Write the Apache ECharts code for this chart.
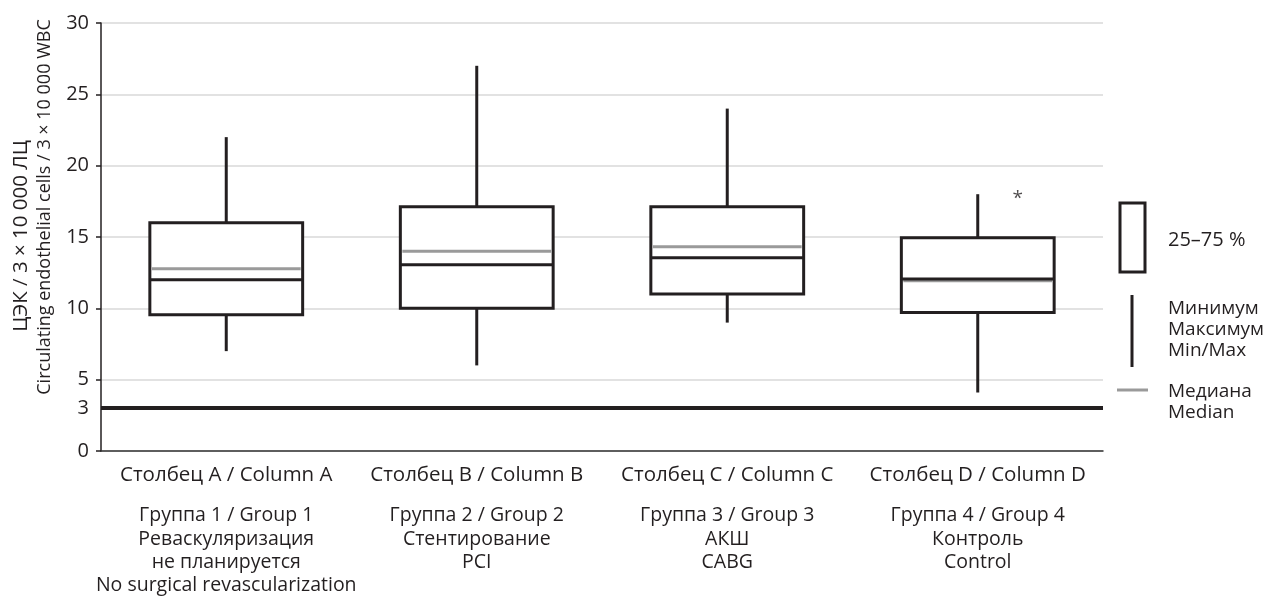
<!DOCTYPE html>
<html>
<head>
<meta charset="utf-8">
<script src="https://cdn.jsdelivr.net/npm/echarts@6/dist/echarts.min.js"></script>
<style>html,body{margin:0;padding:0;background:#fff;}#c{width:1272px;height:604px;}</style>
</head>
<body>
<div id="c"></div>
<script>
const categories = ['Столбец A / Column A', 'Столбец B / Column B', 'Столбец C / Column C', 'Столбец D / Column D'];
const groupLabels = [
  'Группа 1 / Group 1\nРеваскуляризация\nне планируется\nNo surgical revascularization',
  'Группа 2 / Group 2\nСтентирование\nPCI',
  'Группа 3 / Group 3\nАКШ\nCABG',
  'Группа 4 / Group 4\nКонтроль\nControl'
];
const minValues    = [7.0, 6.0, 9.0, 4.1];
const q1Values     = [9.55, 10.0, 11.0, 9.7];
const centerValues = [12.0, 13.05, 13.55, 12.05];
const q3Values     = [16.0, 17.12, 17.12, 14.95];
const maxValues    = [22.0, 27.0, 24.0, 18.0];
const medianValues = [12.78, 14.0, 14.32, 11.93];
const referenceLevel = 3;
const significance = [[3, 17.8]];
const yTickValues = [0, 5, 10, 15, 20, 25, 30];

const FONT = 'Open Sans';
const INK = '#231f20';
const GREY = '#9a9a9a';

const boxData = categories.map((c, i) => [i, minValues[i], q1Values[i], centerValues[i], q3Values[i], maxValues[i], medianValues[i]]);

function renderItem(params, api) {
  const x = api.value(0);
  const pMin = api.coord([x, api.value(1)]);
  const pQ1 = api.coord([x, api.value(2)]);
  const pC = api.coord([x, api.value(3)]);
  const pQ3 = api.coord([x, api.value(4)]);
  const pMax = api.coord([x, api.value(5)]);
  const pMed = api.coord([x, api.value(6)]);
  const w = api.size([1, 0])[0] * 0.61;
  const cx = pC[0];
  const l = cx - w / 2, r = cx + w / 2;
  return {
    type: 'group',
    children: [
      {type: 'line', shape: {x1: cx, y1: pMax[1], x2: cx, y2: pQ3[1]}, style: {stroke: INK, lineWidth: 3}},
      {type: 'line', shape: {x1: cx, y1: pQ1[1], x2: cx, y2: pMin[1]}, style: {stroke: INK, lineWidth: 3}},
      {type: 'rect', shape: {x: l, y: pQ3[1], width: w, height: pQ1[1] - pQ3[1]}, style: {fill: '#fff', stroke: INK, lineWidth: 3}},
      {type: 'line', shape: {x1: l + 2, y1: pMed[1], x2: r - 2, y2: pMed[1]}, style: {stroke: GREY, lineWidth: 3}},
      {type: 'line', shape: {x1: l, y1: pC[1], x2: r, y2: pC[1]}, style: {stroke: INK, lineWidth: 3}}
    ]
  };
}

const chart = echarts.init(document.getElementById('c'));
const txt = {fontFamily: FONT, fontSize: 19, fill: INK};
chart.setOption({
  animation: false,
  textStyle: {fontFamily: FONT, color: INK},
  grid: {left: 101, right: 169, top: 23, bottom: 153},
  xAxis: [{
    type: 'category', data: categories, boundaryGap: true,
    axisLine: {lineStyle: {color: '#333', width: 1.5}},
    axisTick: {alignWithLabel: true, length: 5, lineStyle: {color: '#333', width: 1.5}},
    axisLabel: {color: INK, fontSize: 20.5, fontFamily: FONT, margin: 14, interval: 0}
  }, {
    type: 'category', data: groupLabels, boundaryGap: true, position: 'bottom', offset: 40,
    axisLine: {show: false}, axisTick: {show: false},
    axisLabel: {color: INK, fontSize: 19.5, fontFamily: FONT, margin: 13, lineHeight: 23.3, interval: 0, verticalAlign: 'top'}
  }],
  yAxis: {
    type: 'value', min: 0, max: 30, interval: 5,
    axisLine: {show: true, lineStyle: {color: INK, width: 1.5}},
    axisTick: {show: true, length: 5, lineStyle: {color: INK, width: 1.5}},
    axisLabel: {color: INK, fontSize: 20, fontFamily: FONT, margin: 12,
      formatter: v => yTickValues.includes(v) ? String(v) : ''},
    splitLine: {lineStyle: {color: '#d9d9d9', width: 1.5}}
  },
  series: [{
    type: 'custom', renderItem: renderItem, data: boxData, z: 3,
    encode: {x: 0, y: [1, 5]},
    markLine: {
      silent: true, symbol: 'none', z: 5,
      lineStyle: {color: INK, width: 4, type: 'solid'},
      label: {show: true, position: 'start', formatter: '{c}', color: INK, fontSize: 20, fontFamily: FONT, distance: 12},
      data: [{yAxis: referenceLevel}]
    }
  }, {
    type: 'scatter', data: significance, symbolSize: 0, z: 4,
    label: {show: true, formatter: '*', position: 'inside', offset: [40, 2], color: INK, fontSize: 19, fontFamily: FONT}
  }],
  graphic: [
    {type: 'text', x: 21, y: 236, rotation: Math.PI / 2, style: Object.assign({}, txt, {text: 'ЦЭК / 3 × 10 000 ЛЦ', align: 'center', verticalAlign: 'middle', fontSize: 20.5})},
    {type: 'text', x: 45, y: 207, rotation: Math.PI / 2, style: Object.assign({}, txt, {text: 'Circulating endothelial cells / 3 × 10 000 WBC', align: 'center', verticalAlign: 'middle', fontSize: 18})},
    {type: 'rect', shape: {x: 1120, y: 203, width: 25, height: 69}, style: {fill: '#fff', stroke: INK, lineWidth: 3}},
    {type: 'text', x: 1168, y: 240, style: Object.assign({}, txt, {text: '25–75 %', verticalAlign: 'middle', fontSize: 20})},
    {type: 'line', shape: {x1: 1132, y1: 295, x2: 1132, y2: 367}, style: {stroke: INK, lineWidth: 3}},
    {type: 'text', x: 1168, y: 309, style: Object.assign({}, txt, {text: 'Минимум', verticalAlign: 'middle'})},
    {type: 'text', x: 1168, y: 330, style: Object.assign({}, txt, {text: 'Максимум', verticalAlign: 'middle'})},
    {type: 'text', x: 1168, y: 351, style: Object.assign({}, txt, {text: 'Min/Max', verticalAlign: 'middle'})},
    {type: 'line', shape: {x1: 1117, y1: 390, x2: 1148, y2: 390}, style: {stroke: GREY, lineWidth: 3}},
    {type: 'text', x: 1168, y: 392, style: Object.assign({}, txt, {text: 'Медиана', verticalAlign: 'middle'})},
    {type: 'text', x: 1168, y: 413, style: Object.assign({}, txt, {text: 'Median', verticalAlign: 'middle'})}
  ]
});
</script>
</body>
</html>
